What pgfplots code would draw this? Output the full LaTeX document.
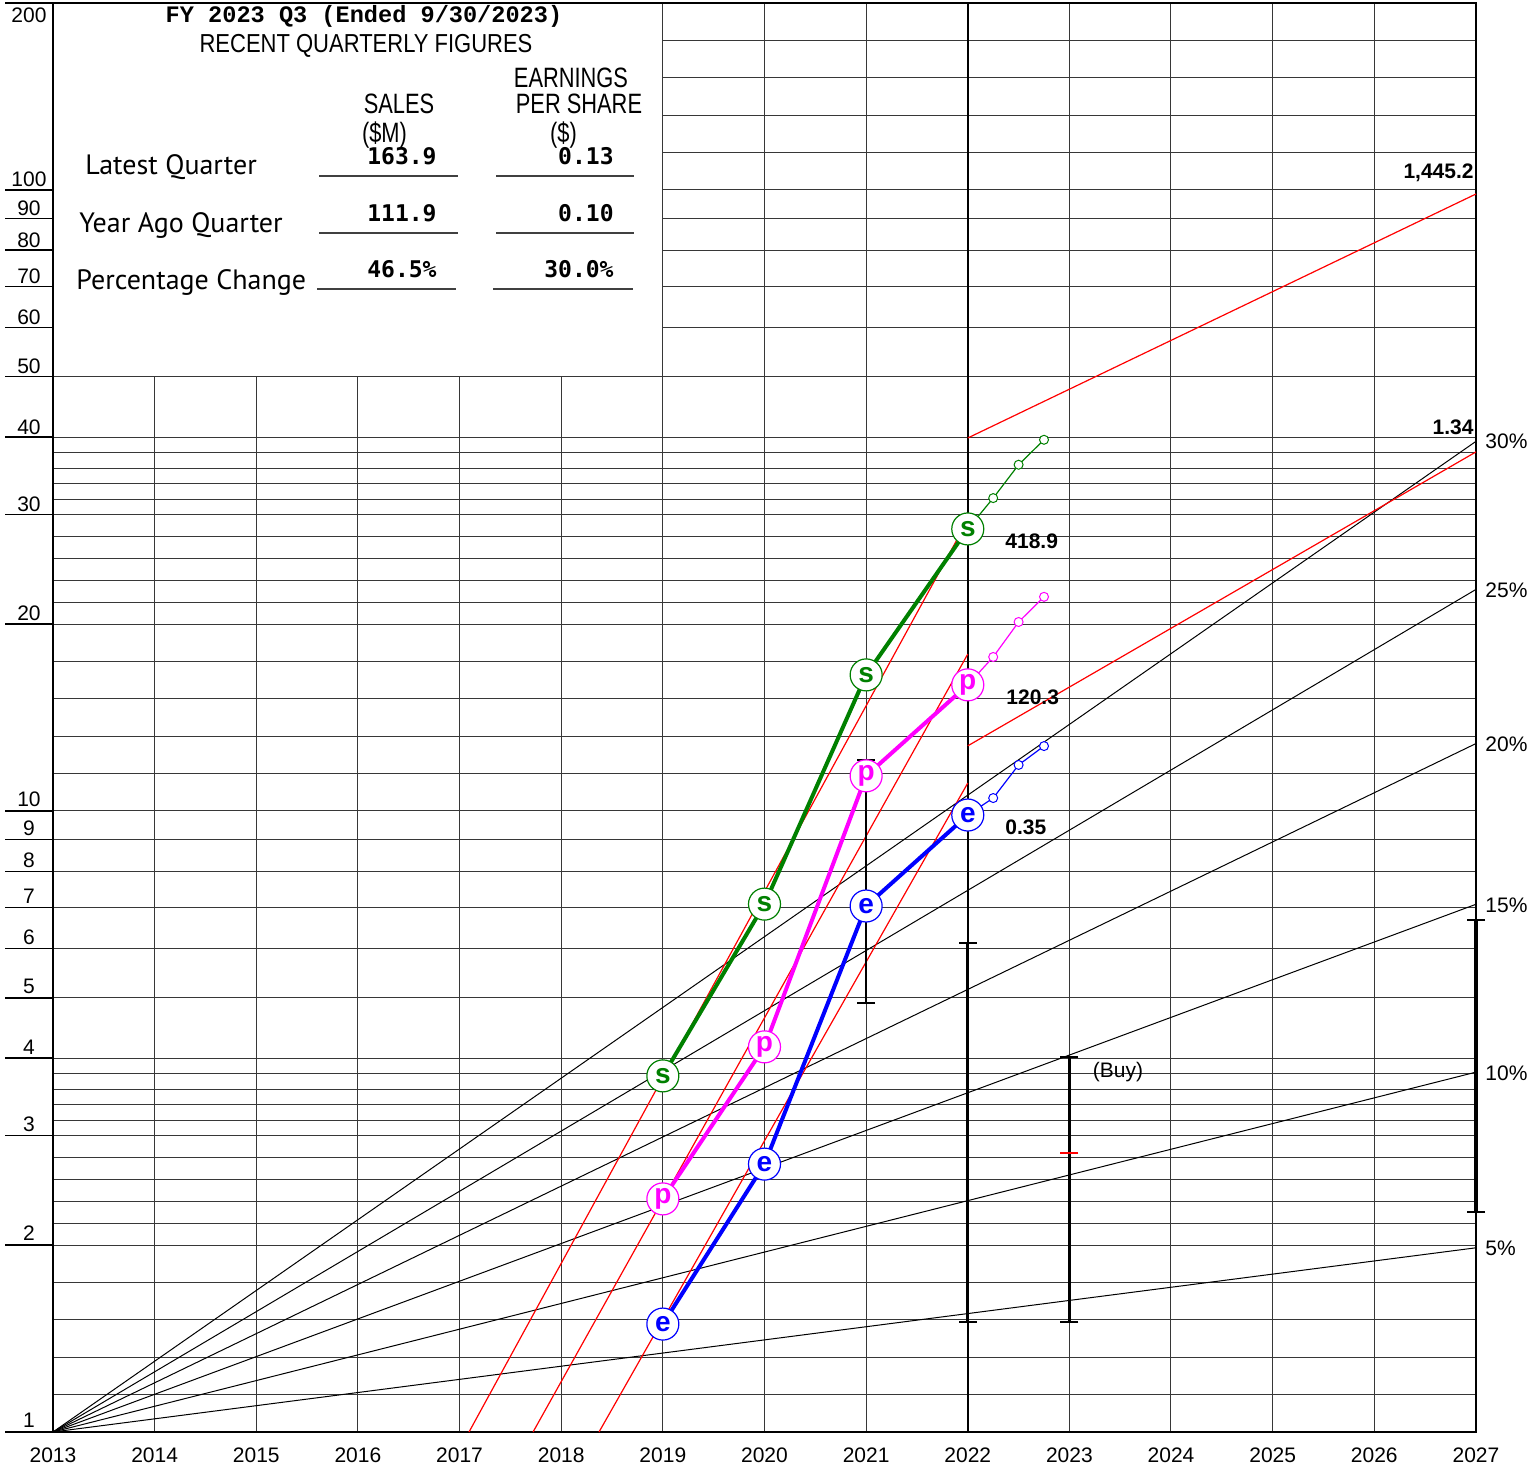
\documentclass[border=0pt]{standalone}
\usepackage{fontspec}
\setmainfont{Liberation Sans}
\newfontfamily\narrowfont[FakeStretch=0.846]{Liberation Sans}
\newfontfamily\xnarrowfont[FakeStretch=0.78]{Liberation Sans}
\newfontfamily\courierfont{Liberation Mono}
\newfontfamily\numfont{DejaVu Sans Mono}
\newfontfamily\rowfont{PT Sans}
\usepackage{pgfplots}
\pgfplotsset{compat=1.18}
\definecolor{sgreen}{RGB}{0,128,0}
\definecolor{pmag}{RGB}{255,0,255}
\definecolor{eblue}{RGB}{0,0,255}
\definecolor{gridc}{RGB}{55,55,55}
\newcommand{\lab}{\fontsize{10.5}{12}\selectfont}
\begin{document}
\begin{tikzpicture}[x=1pt,y=1pt]
\useasboundingbox (-26.5,-17) rectangle (743,716);
\begin{axis}[
  at={(0pt,0pt)}, anchor=south west,
  scale only axis, width=711.5pt, height=714.5pt,
  xmin=2013, xmax=2027, ymin=1, ymax=200, ymode=log,
  clip=false,
  axis line style={line width=0.9pt},
  xtick={2014,...,2026}, xticklabels={},
  ytick={1.1487,1.3195,1.5157,1.7411,2,2.1689,2.3522,2.5510,2.7665,3,3.1777,3.3659,3.5652,3.7764,4,5,6,7,8,9,10,11.487,13.195,15.157,17.411,20,21.689,23.522,25.510,27.665,30,31.777,33.659,35.652,37.764,40,50,60,70,80,90,100,114.87,131.95,151.57,174.11},
  yticklabels={},
  major tick length=0pt,
  grid=major,
  major grid style={gridc, line width=0.5pt},
]
% white table box
\fill[white] (axis cs:2013,50) rectangle (axis cs:2019,200);
\draw[gridc, line width=0.5pt] (axis cs:2013,50) -- (axis cs:2019,50) -- (axis cs:2019,200);
\draw[black, line width=0.9pt] (axis cs:2013,50) -- (axis cs:2013,200) -- (axis cs:2019,200);
\draw[black, line width=1.1pt] (axis cs:2022,1) -- (axis cs:2022,200);
% left ticks
\pgfplotsinvokeforeach{1,2,3,4,5,6,7,8,9,10,20,30,40,50,60,70,80,90,100,200}{
  \draw[black, line width=0.6pt] (axis cs:2013,#1) -- ++(-24pt,0pt);
}
% growth rate lines 5% .. 30%
\addplot[black, line width=0.5pt] coordinates {(2013,1) (2027,1.9799)};
\addplot[black, line width=0.5pt] coordinates {(2013,1) (2027,3.7975)};
\addplot[black, line width=0.5pt] coordinates {(2013,1) (2027,7.0757)};
\addplot[black, line width=0.5pt] coordinates {(2013,1) (2027,12.839)};
\addplot[black, line width=0.5pt] coordinates {(2013,1) (2027,22.737)};
\addplot[black, line width=0.5pt] coordinates {(2013,1) (2027,39.374)};
% red trend lines
\addplot[red, line width=0.6pt] coordinates {(2017.093,1) (2022,29.42)};
\addplot[red, line width=0.6pt] coordinates {(2017.723,1) (2022,17.89)};
\addplot[red, line width=0.6pt] coordinates {(2018.372,1) (2022,11.09)};
\addplot[red, line width=0.6pt] coordinates {(2022,39.87) (2027,98.5)};
\addplot[red, line width=0.6pt] coordinates {(2022,12.73) (2027,37.86)};
% range bars
\addplot[black, line width=1.1pt, mark=-, mark size=4.5pt, mark options={line width=0.9pt}] coordinates {(2021,4.91) (2021,12.08)};
\addplot[black, line width=1.4pt, mark=-, mark size=4.5pt, mark options={line width=0.9pt}] coordinates {(2022,1.503) (2022,6.13)};
\addplot[black, line width=1.3pt, mark=-, mark size=4.5pt, mark options={line width=0.9pt}] coordinates {(2023,1.503) (2023,4.017)};
\addplot[black, line width=1.6pt, mark=-, mark size=4.5pt, mark options={line width=0.9pt}] coordinates {(2027,2.261) (2027,6.675)};
\addplot[red, only marks, mark=-, mark size=4.5pt, mark options={line width=0.9pt}] coordinates {(2023,2.814)};
% data lines
\addplot[sgreen, line width=2pt] coordinates {(2019,3.745) (2020,7.08) (2021,16.56) (2022,28.45)};
\addplot[pmag, line width=2pt] coordinates {(2019,2.373) (2020,4.17) (2021,11.39) (2022,15.96)};
\addplot[eblue, line width=2pt] coordinates {(2019,1.492) (2020,2.70) (2021,7.03) (2022,9.85)};
\addplot[sgreen, line width=0.6pt, mark=*, mark size=2.25pt, mark options={fill=white, draw=sgreen, line width=0.5pt}] coordinates {(2022,28.45) (2022.25,31.9) (2022.5,36.1) (2022.75,39.6)};
\addplot[pmag, line width=0.6pt, mark=*, mark size=2.25pt, mark options={fill=white, draw=pmag, line width=0.5pt}] coordinates {(2022,15.96) (2022.25,17.7) (2022.5,20.15) (2022.75,22.12)};
\addplot[eblue, line width=0.6pt, mark=*, mark size=2.25pt, mark options={fill=white, draw=eblue, line width=0.5pt}] coordinates {(2022,9.85) (2022.25,10.49) (2022.5,11.86) (2022.75,12.72)};
% big lettered markers
\addplot[only marks, mark=*, mark size=8pt, mark options={fill=white, draw=sgreen, line width=0.6pt},
  nodes near coords={s}, every node near coord/.append style={anchor=center, text=sgreen, font=\bfseries\fontsize{14}{14}\selectfont}]
  coordinates {(2019,3.745) (2020,7.08) (2021,16.56) (2022,28.45)};
\addplot[only marks, mark=*, mark size=8pt, mark options={fill=white, draw=pmag, line width=0.6pt},
  nodes near coords={p}, every node near coord/.append style={anchor=center, text=pmag, font=\bfseries\fontsize{14}{14}\selectfont}]
  coordinates {(2019,2.373) (2020,4.17) (2021,11.39) (2022,15.96)};
\addplot[only marks, mark=*, mark size=8pt, mark options={fill=white, draw=eblue, line width=0.6pt},
  nodes near coords={e}, every node near coord/.append style={anchor=center, text=eblue, font=\bfseries\fontsize{14}{14}\selectfont}]
  coordinates {(2019,1.492) (2020,2.70) (2021,7.03) (2022,9.85)};
\end{axis}
% left axis labels
\foreach \v/\yy in {1/0,2/93.5,3/148.1,4/186.9,5/217.0,6/241.6,7/262.4,8/280.4,9/296.3,10/310.5,20/403.5,30/458.2,40/496.9,50/527.0,60/551.6,70/572.4,80/590.4,90/606.3,100/620.5}{
  \node[anchor=base, inner sep=0pt, font=\lab] at (-12,\yy+2) {\v};
}
\node[anchor=base, inner sep=0pt, font=\lab] at (-12,704.5) {200};
% year labels
\foreach \k in {0,...,14}{
  \pgfmathtruncatemacro{\yr}{2013+\k}
  \node[anchor=base, inner sep=0pt, font=\lab] at (\k*50.82,-15.5) {\yr};
}
% right labels
\node[anchor=base west, inner sep=0pt, font=\lab] at (716,491.75) {30\%};
\node[anchor=base west, inner sep=0pt, font=\lab] at (716,417.25) {25\%};
\node[anchor=base west, inner sep=0pt, font=\lab] at (716,340.25) {20\%};
\node[anchor=base west, inner sep=0pt, font=\lab] at (716,259.75) {15\%};
\node[anchor=base west, inner sep=0pt, font=\lab] at (716,175.75) {10\%};
\node[anchor=base west, inner sep=0pt, font=\lab] at (716,88.25) {5\%};
\node[anchor=base east, inner sep=0pt, font=\lab\bfseries] at (710.5,626.75) {1,445.2};
\node[anchor=base east, inner sep=0pt, font=\lab\bfseries] at (710.5,498.75) {1.34};
\node[anchor=base west, inner sep=0pt, font=\lab\bfseries] at (476,441.75) {418.9};
\node[anchor=base west, inner sep=0pt, font=\lab\bfseries] at (476.5,363.75) {120.3};
\node[anchor=base west, inner sep=0pt, font=\lab\bfseries] at (476,298.75) {0.35};
\node[anchor=base, inner sep=0pt, font=\lab] at (532.5,177.25) {(Buy)};
% table
\node[anchor=base, inner sep=0pt, font=\courierfont\bfseries\fontsize{11.8}{12}\selectfont] at (155.5,704.5) {FY 2023 Q3 (Ended 9/30/2023)};
\node[anchor=base, inner sep=0pt, font=\narrowfont\fontsize{13}{14}\selectfont] at (156.5,689.5) {RECENT QUARTERLY FIGURES};
\node[anchor=base, inner sep=0pt, font=\xnarrowfont\fontsize{14}{15}\selectfont] at (173,659) {SALES};
\node[anchor=base, inner sep=0pt, font=\xnarrowfont\fontsize{14}{15}\selectfont] at (165.75,644.5) {(\$M)};
\node[anchor=base, inner sep=0pt, font=\xnarrowfont\fontsize{14}{15}\selectfont] at (259,672) {EARNINGS};
\node[anchor=base, inner sep=0pt, font=\xnarrowfont\fontsize{14}{15}\selectfont] at (263,659) {PER SHARE};
\node[anchor=base, inner sep=0pt, font=\xnarrowfont\fontsize{14}{15}\selectfont] at (255.25,644.5) {(\$)};
\node[anchor=base west, inner sep=0pt, font=\rowfont\fontsize{14}{15}\selectfont] at (16,628.5) {Latest Quarter};
\node[anchor=base west, inner sep=0pt, font=\rowfont\fontsize{14}{15}\selectfont] at (13,599.5) {Year Ago Quarter};
\node[anchor=base west, inner sep=0pt, font=\rowfont\fontsize{14}{15}\selectfont] at (11.5,571) {Percentage Change};
\node[anchor=base east, inner sep=0pt, font=\numfont\bfseries\fontsize{11.5}{12}\selectfont] at (192,633.5) {163.9};
\node[anchor=base east, inner sep=0pt, font=\numfont\bfseries\fontsize{11.5}{12}\selectfont] at (280.5,633.5) {0.13};
\node[anchor=base east, inner sep=0pt, font=\numfont\bfseries\fontsize{11.5}{12}\selectfont] at (192,605) {111.9};
\node[anchor=base east, inner sep=0pt, font=\numfont\bfseries\fontsize{11.5}{12}\selectfont] at (280.5,605) {0.10};
\node[anchor=base east, inner sep=0pt, font=\numfont\bfseries\fontsize{11.5}{12}\selectfont] at (192,577) {46.5\%};
\node[anchor=base east, inner sep=0pt, font=\numfont\bfseries\fontsize{11.5}{12}\selectfont] at (280.5,577) {30.0\%};
\draw[black!75, line width=0.7pt] (133,628) -- (202.5,628) (221.5,628) -- (290.5,628);
\draw[black!75, line width=0.7pt] (133,599.5) -- (202.5,599.5) (221.5,599.5) -- (290.5,599.5);
\draw[black!75, line width=0.7pt] (132,571.5) -- (201.5,571.5) (220,571.5) -- (290,571.5);
\end{tikzpicture}
\end{document}
